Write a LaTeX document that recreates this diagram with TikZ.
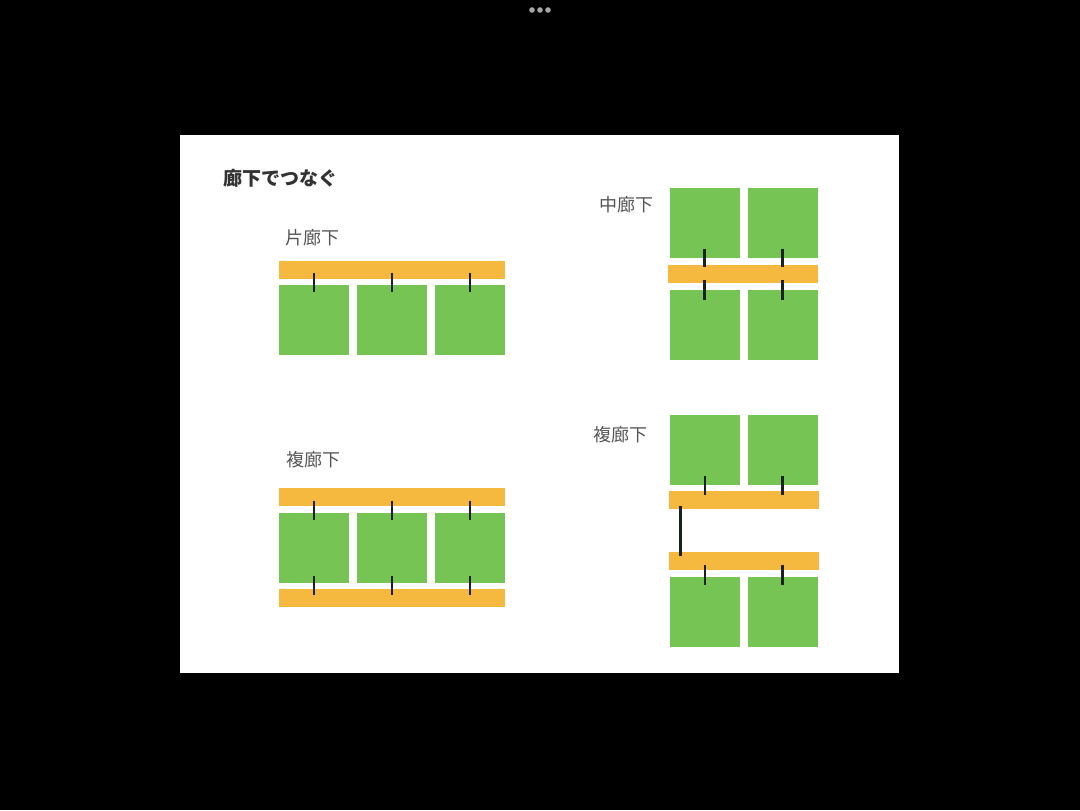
\documentclass[tikz,border=0pt]{standalone}
\usepackage{fontspec}
\newfontfamily\cjk{Noto Sans CJK JP}
\usetikzlibrary{calc}
\definecolor{roomgreen}{RGB}{118,197,84}
\definecolor{hallorange}{RGB}{246,185,64}
\definecolor{labelgray}{RGB}{85,85,85}
\definecolor{titlegray}{RGB}{50,50,50}
\definecolor{tickdark}{RGB}{25,35,25}
\tikzset{
  room/.style={fill=roomgreen, draw=none, inner sep=0pt, minimum width=35pt, minimum height=35pt},
  hallL/.style={fill=hallorange, draw=none, inner sep=0pt, minimum width=113pt, minimum height=9pt},
  hallS/.style={fill=hallorange, draw=none, inner sep=0pt, minimum width=75pt, minimum height=9pt},
  link/.style={draw=tickdark, line width=1.2pt},
  lbl/.style={text=labelgray, font=\cjk\fontsize{9}{11}\selectfont, inner sep=0pt},
  ttl/.style={text=titlegray, font=\cjk\bfseries\fontsize{9.5}{11}\selectfont, inner sep=0pt}
}
\begin{document}
\begin{tikzpicture}[x=0.5pt,y=-0.5pt]
\useasboundingbox (0,0) rectangle (1080,810);
\fill[black] (0,0) rectangle (1080,810);
\fill[white] (180,135) rectangle (899,673);
\foreach \dx in {532,540,548}
  \fill[gray!70!white] (\dx,10) circle[radius=2.8];

\node[ttl] (title) at (280,178) {廊下でつなぐ};

% 片廊下
\node[lbl] (l1) at (312.5,238) {片廊下};
\node[hallL] (c1) at (392,269.5) {};
\node[room] (a1) at (314,320) {};
\node[room] (a2) at (392,320) {};
\node[room] (a3) at (470,320) {};
\foreach \r in {a1,a2,a3}
  \draw[link] ($(\r.north)+(0,-12)$) -- ($(\r.north)+(0,7)$);

% 中廊下
\node[lbl] (l2) at (626.5,205) {中廊下};
\node[room] (b1) at (704.5,222.5) {};
\node[room] (b2) at (782.5,222.5) {};
\node[hallS] (c2) at (742.5,274) {};
\node[room] (b3) at (704.5,324.5) {};
\node[room] (b4) at (782.5,324.5) {};
\foreach \r in {b1,b2}
  \draw[link] ($(\r.south)+(0,-8.5)$) -- ($(\r.south)+(0,9.5)$);
\foreach \r in {b3,b4}
  \draw[link] ($(\r.north)+(0,-9.5)$) -- ($(\r.north)+(0,10.5)$);

% 複廊下 (left)
\node[lbl] (l3) at (313.5,460) {複廊下};
\node[hallL] (d1) at (392,497) {};
\node[room] (e1) at (314,548) {};
\node[room] (e2) at (392,548) {};
\node[room] (e3) at (470,548) {};
\node[hallL] (d2) at (392,598) {};
\foreach \r in {e1,e2,e3}{
  \draw[link] ($(\r.north)+(0,-12)$) -- ($(\r.north)+(0,7)$);
  \draw[link] ($(\r.south)+(0,-7)$) -- ($(\r.south)+(0,12)$);
}

% 複廊下 (right)
\node[lbl] (l4) at (620.5,435) {複廊下};
\node[room] (f1) at (705,450) {};
\node[room] (f2) at (782.5,450) {};
\node[hallS] (g1) at (743.5,499.5) {};
\node[hallS] (g2) at (743.5,561) {};
\node[room] (f3) at (705,611.5) {};
\node[room] (f4) at (782.5,611.5) {};
\foreach \r in {f1,f2}
  \draw[link] ($(\r.south)+(0,-9)$) -- ($(\r.south)+(0,10)$);
\foreach \r in {f3,f4}
  \draw[link] ($(\r.north)+(0,-11.5)$) -- ($(\r.north)+(0,8.5)$);
\draw[link] ($(g1.south west)+(12.5,-3)$) -- ($(g2.north west)+(12.5,4)$);
\end{tikzpicture}
\end{document}
